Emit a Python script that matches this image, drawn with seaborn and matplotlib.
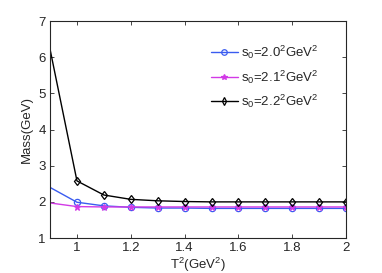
import numpy as np
import pandas as pd
import matplotlib
matplotlib.use("Agg")
import matplotlib.pyplot as plt
import seaborn as sns

T2 = [0.9, 1.0, 1.1, 1.2, 1.3, 1.4, 1.5, 1.6, 1.7, 1.8, 1.9, 2.0]
mass_s20 = [2.40, 1.99, 1.89, 1.85, 1.83, 1.83, 1.82, 1.82, 1.82, 1.82, 1.82, 1.82]
mass_s21 = [1.97, 1.87, 1.86, 1.86, 1.86, 1.86, 1.86, 1.86, 1.86, 1.86, 1.86, 1.86]
mass_s22 = [6.22, 2.58, 2.19, 2.07, 2.03, 2.01, 2.00, 2.00, 2.00, 2.00, 2.00, 2.00]
labels = [r"s$_0$=2.0$^2$GeV$^2$", r"s$_0$=2.1$^2$GeV$^2$", r"s$_0$=2.2$^2$GeV$^2$"]

sns.set_style("ticks")
plt.rcParams['font.family'] = ['Liberation Sans', 'DejaVu Sans']
plt.rcParams['mathtext.fontset'] = 'custom'
plt.rcParams['mathtext.rm'] = 'Liberation Sans'
plt.rcParams['mathtext.it'] = 'Liberation Sans:italic'
plt.rcParams['mathtext.bf'] = 'Liberation Sans:bold'

fig = plt.figure(figsize=(3.82, 2.73), dpi=100)
ax = fig.add_axes([0.131, 0.128, 0.775, 0.795])

styles = [("#3a5cf0", "o", 4.5, "none"), ("#d23ae6", "*", 5, None), ("black", "d", 4.5, "none")]
for ys, lab, (c, m, ms, mfc) in zip([mass_s20, mass_s21, mass_s22], labels, styles):
    df = pd.DataFrame({"T2": T2, "Mass": ys})
    kw = dict(marker=m, markersize=ms, markeredgecolor=c, markeredgewidth=0.9,
              markerfacecolor=(c if mfc is None else mfc), markevery=slice(1, None))
    sns.lineplot(data=df, x="T2", y="Mass", ax=ax, color=c, linewidth=1.0, label=lab, **kw)

ax.set_xlim(0.9, 2.0)
ax.set_ylim(1, 7)
ax.set_xticks([1, 1.2, 1.4, 1.6, 1.8, 2])
ax.set_xticklabels(["1", "1.2", "1.4", "1.6", "1.8", "2"])
ax.set_yticks(range(1, 8))
ax.tick_params(direction="in", top=True, right=True, labelsize=9.5, length=3, width=0.6, pad=3)
for s in ax.spines.values():
    s.set_linewidth(0.8)
    s.set_visible(True)
ax.set_xlabel(r"T$^2$(GeV$^2$)", fontsize=9.5, labelpad=1)
ax.set_ylabel("Mass(GeV)", fontsize=9.5, labelpad=4)
leg = ax.legend(loc="upper left", bbox_to_anchor=(0.503, 0.95), frameon=False, fontsize=9.5,
                handlelength=2.05, labelspacing=0.55, handletextpad=0.25)
for h in leg.legend_handles:
    h.set_markevery([1])
    h.set_markersize(4)
fig.savefig("out.png", dpi=100)
